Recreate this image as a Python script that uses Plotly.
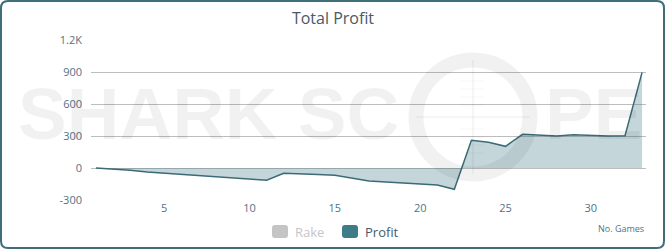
import plotly.graph_objects as go

games = list(range(1, 34))
profit = [0, -8, -20, -38, -48, -58, -68, -78, -88, -105, -115,
          -50, -59, -61, -69, -97, -122, -131, -138, -150, -159, -200,
          260, 241, 203, 316, 309, 300, 312, 306, 300, 303, 897]
ytick_vals = [-300, 0, 300, 600, 900, 1200]
ytick_text = ["-300", "0", "300", "600", "900", "1.2K"]
xtick_vals = [5, 10, 15, 20, 25, 30]
legend_names = ["Rake", "Profit"]
legend_colors = ["#c4c4c4", "#3e7d88"]
legend_text_colors = ["#c6c6c6", "#3f5c6b"]

W, H = 666, 250
L, R, T, B = 91, 20, 40, 50
PW, PH = W - L - R, H - T - B

def px(x):
    return (x - L) / PW

def py(y):
    return (H - B - y) / PH

fig = go.Figure()
fig.add_trace(go.Scatter(
    x=games, y=profit, mode="lines", fill="tozeroy",
    line=dict(color="#3b6b76", width=1.5),
    fillcolor="rgba(61,120,133,0.30)", showlegend=False, hoverinfo="skip"))

tick_font = dict(family="Open Sans", size=11, color="#4f7386")

fig.update_layout(
    width=W, height=H, margin=dict(l=L, r=R, t=T, b=B, autoexpand=False),
    paper_bgcolor="white", plot_bgcolor="white", showlegend=False,
    title=dict(text="Total Profit", x=0.5, xanchor="center", y=1 - 18 / H, yanchor="middle",
               font=dict(family="Open Sans", size=16, color="#4a5966")),
    xaxis=dict(range=[0.71, 33.23], tickvals=xtick_vals, showgrid=False, zeroline=False,
               showline=False, ticks="", tickfont=tick_font, fixedrange=True),
    yaxis=dict(range=[-300, 1200], tickvals=ytick_vals, ticktext=ytick_text,
               showgrid=True, gridcolor="#bdbdbd", gridwidth=1, zeroline=False,
               showline=False, ticks="", tickfont=tick_font, ticklabelstandoff=8),
)

wm = "rgba(0,0,0,0.055)"
fig.add_annotation(text="<b>SHARK SC</b>", xref="paper", yref="paper", x=px(16), y=py(113),
                   xanchor="left", yanchor="middle", showarrow=False,
                   font=dict(family="Liberation Sans", size=73, color=wm))
fig.add_annotation(text="<b>PE</b>", xref="paper", yref="paper", x=px(543), y=py(113),
                   xanchor="left", yanchor="middle", showarrow=False,
                   font=dict(family="Liberation Sans", size=73, color=wm))
# scope ring
cx, cy, rr = 473, 117, 57
fig.add_shape(type="circle", xref="paper", yref="paper",
              x0=px(cx - rr), x1=px(cx + rr), y0=py(cy + rr), y1=py(cy - rr),
              line=dict(color=wm, width=15), layer="above")
cross = "rgba(0,0,0,0.035)"
fig.add_shape(type="line", xref="paper", yref="paper", x0=px(cx), x1=px(cx),
              y0=py(cy - rr), y1=py(cy + rr), line=dict(color=cross, width=2), layer="above")
fig.add_shape(type="line", xref="paper", yref="paper", x0=px(cx - rr), x1=px(cx + rr),
              y0=py(cy), y1=py(cy), line=dict(color=cross, width=2), layer="above")
for dy in (-36, -28, -20, -12, 12, 20, 28, 36):
    fig.add_shape(type="line", xref="paper", yref="paper", x0=px(cx - 12), x1=px(cx + 12),
                  y0=py(cy + dy), y1=py(cy + dy), line=dict(color=cross, width=1), layer="above")

def rounded_rect(x0, y0, x1, y1, r):
    return (f"M {px(x0 + r)},{py(y0)} L {px(x1 - r)},{py(y0)} "
            f"Q {px(x1)},{py(y0)} {px(x1)},{py(y0 + r)} L {px(x1)},{py(y1 - r)} "
            f"Q {px(x1)},{py(y1)} {px(x1 - r)},{py(y1)} L {px(x0 + r)},{py(y1)} "
            f"Q {px(x0)},{py(y1)} {px(x0)},{py(y1 - r)} L {px(x0)},{py(y0 + r)} "
            f"Q {px(x0)},{py(y0)} {px(x0 + r)},{py(y0)} Z")

# rounded outer border
fig.add_shape(type="path", xref="paper", yref="paper", path=rounded_rect(1, 1, W - 2, H - 2, 7),
              line=dict(color="#3f6e79", width=2), layer="above")

# manual legend
leg_x = [272, 342]
for name, col, tcol, lx in zip(legend_names, legend_colors, legend_text_colors, leg_x):
    fig.add_shape(type="path", xref="paper", yref="paper",
                  path=rounded_rect(lx, 225, lx + 16, 238, 3),
                  fillcolor=col, line=dict(width=0), layer="above")
    fig.add_annotation(text=name, xref="paper", yref="paper", x=px(lx + 21), y=py(232),
                       xanchor="left", yanchor="middle", showarrow=False,
                       font=dict(family="Open Sans", size=13, color=tcol))

fig.add_annotation(text="No. Games", xref="paper", yref="paper", x=1, y=py(228),
                   xanchor="right", yanchor="middle", showarrow=False,
                   font=dict(family="Open Sans", size=9, color="#4f7386"))

fig.write_html("out.html")
